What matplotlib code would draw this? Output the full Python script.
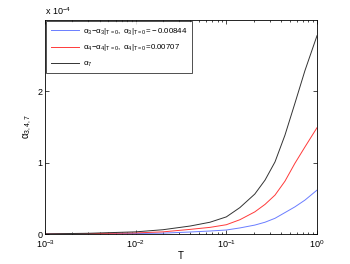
import matplotlib
matplotlib.use("Agg")
import matplotlib.pyplot as plt
from matplotlib.ticker import LogLocator, NullFormatter

plt.rcParams['font.family'] = ['Liberation Sans', 'DejaVu Sans']
plt.rcParams['mathtext.fontset'] = 'custom'
plt.rcParams['mathtext.rm'] = 'Liberation Sans'
plt.rcParams['mathtext.it'] = 'Liberation Sans'
plt.rcParams['mathtext.default'] = 'regular'

# temperatures and coefficients (units of 1e-4)
T = [0.001, 0.003, 0.01, 0.02, 0.04, 0.066, 0.1, 0.141, 0.206, 0.267,
     0.344, 0.443, 0.57, 0.736, 1.0]
alpha3 = [0.0, 0.002, 0.006, 0.012, 0.028, 0.042, 0.056, 0.085, 0.125,
          0.165, 0.22, 0.30, 0.38, 0.475, 0.615]
alpha4 = [0.0, 0.005, 0.015, 0.03, 0.065, 0.093, 0.13, 0.2, 0.31, 0.415,
          0.545, 0.74, 0.99, 1.22, 1.49]
alpha7 = [0.002, 0.01, 0.03, 0.06, 0.112, 0.165, 0.24, 0.37, 0.56, 0.755,
          1.01, 1.385, 1.83, 2.29, 2.78]

labels = [r'$\alpha_3\!-\!\alpha_3|_{T=0},\ \alpha_3|_{T=0}\!=\!-0.00844$',
          r'$\alpha_4\!-\!\alpha_4|_{T=0},\ \alpha_4|_{T=0}\!=\!0.00707$',
          r'$\alpha_7$']

fig = plt.figure(figsize=(3.5, 2.64), dpi=100)
ax = fig.add_axes([45 / 350, 30 / 264, 272 / 350, 214 / 264])

ax.plot(T, alpha3, color='#6a7dff', lw=0.7, label=labels[0])
ax.plot(T, alpha4, color='#ff3a3a', lw=0.7, label=labels[1])
ax.plot(T, alpha7, color='#333333', lw=0.7, label=labels[2])

ax.set_xscale('log')
ax.set_xlim(1e-3, 1)
ax.set_ylim(0, 3.0)
ax.set_yticks([0, 1, 2])
ax.xaxis.set_minor_locator(LogLocator(base=10, subs=range(2, 10)))
ax.xaxis.set_minor_formatter(NullFormatter())
ax.tick_params(which='both', direction='in', top=True, right=True,
               labelsize=6.5, width=0.5)
ax.tick_params(axis='x', pad=3)
ax.tick_params(axis='y', pad=2)
ax.tick_params(which='major', length=3)
ax.tick_params(which='minor', length=1.5)
for s in ax.spines.values():
    s.set_linewidth(0.6)

ax.set_xlabel('T', fontsize=7, labelpad=1)
ax.set_ylabel(r'$\alpha_{3,4,7}$', fontsize=7, labelpad=2)
ax.text(0, 1.015, r'x 10$^{-4}$', transform=ax.transAxes, fontsize=6.5,
        ha='left', va='bottom')

leg = ax.legend(loc='upper left', fontsize=5.7, frameon=True, fancybox=False,
                edgecolor='black', borderaxespad=0.15, handlelength=3.6,
                handletextpad=0.5, labelspacing=0.75, borderpad=0.55)
leg.get_frame().set_linewidth(0.6)

fig.savefig('out.png', dpi=100)
